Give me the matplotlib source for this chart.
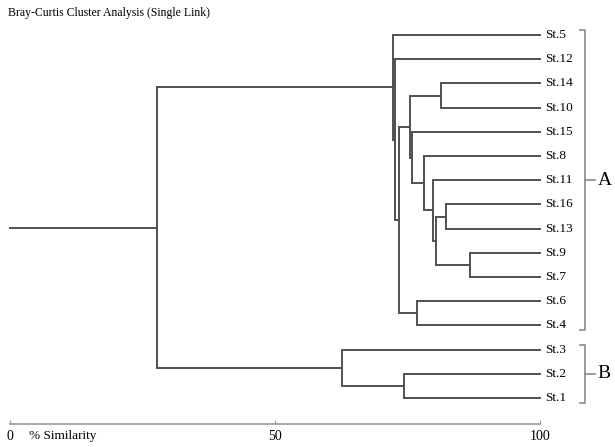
import matplotlib
matplotlib.use("Agg")
import matplotlib.pyplot as plt

plt.rcParams["font.family"] = "Liberation Serif"

# leaves, top to bottom
leaves = ["St.5", "St.12", "St.14", "St.10", "St.15", "St.8", "St.11", "St.16",
          "St.13", "St.9", "St.7", "St.6", "St.4", "St.3", "St.2", "St.1"]

# merges: (node name, child a, child b, % similarity)
merges = [
    ("n1", "St.9", "St.7", 86.7),
    ("n2", "St.16", "St.13", 82.3),
    ("n3", "n2", "n1", 80.4),
    ("n4", "St.11", "n3", 79.8),
    ("n5", "St.8", "n4", 78.2),
    ("n6", "St.15", "n5", 75.8),
    ("n7", "St.14", "St.10", 81.3),
    ("n8", "n7", "n6", 75.5),
    ("n9", "St.6", "St.4", 76.7),
    ("n10", "n8", "n9", 73.4),
    ("n11", "St.12", "n10", 72.6),
    ("n12", "St.5", "n11", 72.2),
    ("n13", "St.2", "St.1", 74.3),
    ("n14", "St.3", "n13", 62.6),
    ("root", "n12", "n14", 27.7),
]

groups = [("A", "St.5", "St.4"), ("B", "St.3", "St.1")]

line_col = "#505050"
W, H = 615, 447
fig = plt.figure(figsize=(W / 100, H / 100), dpi=100)
ax = fig.add_axes([10 / W, 1 - 424 / H, 530 / W, (424 - 30) / H])

pos = {}
for i, name in enumerate(leaves):
    pos[name] = (100.0, i)

for name, a, b, s in merges:
    xa, ya = pos[a]
    xb, yb = pos[b]
    ax.plot([xa, s, s, xb], [ya, ya, yb, yb], color=line_col, lw=1.4,
            solid_joinstyle="miter", clip_on=False)
    pos[name] = (s, (ya + yb) / 2)

rx, ry = pos["root"]
ax.plot([0, rx], [ry, ry], color=line_col, lw=1.4, clip_on=False)

for i, name in enumerate(leaves):
    ax.text(101.0, i, name, va="center", ha="left", fontsize=9.5)

# brackets
bx = 108.5
for lab, first, last in groups:
    y0 = leaves.index(first) - 0.2
    y1 = leaves.index(last) + 0.2
    ym = (y0 + y1) / 2
    ax.plot([bx - 1.0, bx, bx, bx - 1.0], [y0, y0, y1, y1], color="#8a8a8a",
            lw=1.2, clip_on=False)
    ax.plot([bx, bx + 1.8], [ym, ym], color="#8a8a8a", lw=1.2, clip_on=False)
    ax.text(bx + 2.4, ym, lab, va="center", ha="left", fontsize=14)

ax.set_xlim(0, 100)
ax.set_ylim((424 - 35) / 24.2, -5 / 24.2)
for side in ["top", "right", "left"]:
    ax.spines[side].set_visible(False)
ax.spines["bottom"].set_color("#9a9a9a")
ax.spines["bottom"].set_linewidth(1.2)
ax.set_yticks([])
ax.set_xticks([0, 50, 100])
ax.tick_params(axis="x", direction="in", length=3, color="#9a9a9a",
               labelsize=10, pad=4)
ax.text(3.5, -0.031, "% Similarity", transform=ax.get_xaxis_transform(),
        va="center", ha="left", fontsize=9.5)

fig.text(8 / W, 1 - 13 / H, "Bray-Curtis Cluster Analysis (Single Link)",
         va="center", ha="left", fontsize=8.5)

fig.savefig("out.png", dpi=100)
